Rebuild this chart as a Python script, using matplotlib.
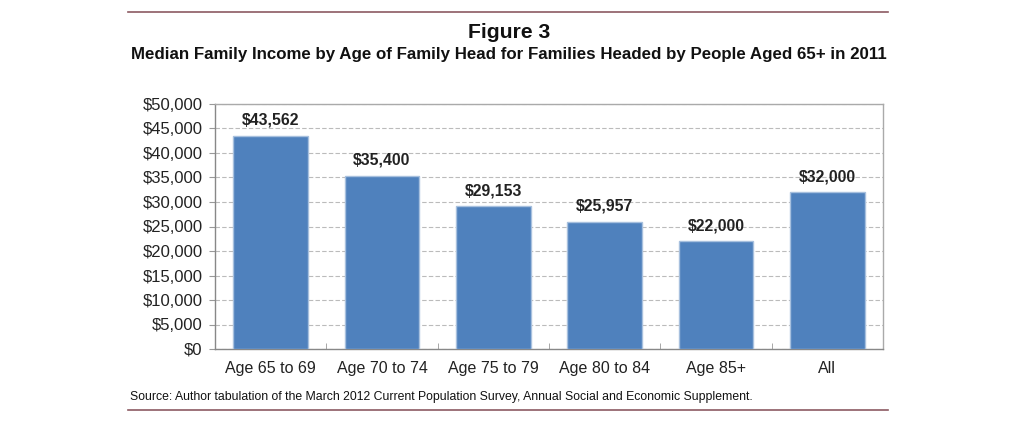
import matplotlib
matplotlib.use("Agg")
import matplotlib.pyplot as plt
from matplotlib.ticker import FuncFormatter, MultipleLocator, FixedLocator
from matplotlib.lines import Line2D

categories = ["Age 65 to 69", "Age 70 to 74", "Age 75 to 79", "Age 80 to 84", "Age 85+", "All"]
values = [43562, 35400, 29153, 25957, 22000, 32000]
title = "Figure 3"
subtitle = "Median Family Income by Age of Family Head for Families Headed by People Aged 65+ in 2011"
source = "Source: Author tabulation of the March 2012 Current Population Survey, Annual Social and Economic Supplement."

plt.rcParams['font.family'] = ['Liberation Sans', 'DejaVu Sans']

fig = plt.figure(figsize=(10.24, 4.21), dpi=100)
ax = fig.add_axes([215/1024, 1-349/421, (883-215)/1024, (349-104)/421])

x = list(range(len(categories)))
ax.bar(x, values, width=0.67, color="#4F81BD", edgecolor="#A7C0DE", linewidth=1.0, zorder=3)
for xi, v in zip(x, values):
    ax.text(xi, v + 1600, f"${v:,.0f}", ha="center", va="bottom", fontsize=11.4, fontweight="bold", color="#222222")

ax.set_xlim(-0.5, len(categories) - 0.5)
ax.set_ylim(0, 50000)
ax.yaxis.set_major_locator(MultipleLocator(5000))
ax.yaxis.set_major_formatter(FuncFormatter(lambda v, p: f"${v:,.0f}"))
ax.set_xticks(x)
ax.set_xticklabels(categories, va="baseline")
ax.xaxis.set_minor_locator(FixedLocator([i + 0.5 for i in range(len(categories) - 1)]))
ax.tick_params(axis="x", which="major", length=0, pad=17.5, labelsize=11.5, colors="#222222")
ax.tick_params(axis="x", which="minor", length=4, direction="in", color="#999999")
ax.tick_params(axis="y", length=4, color="#999999", labelsize=12, labelcolor="#222222", pad=5)
ax.grid(axis="y", color="#BBBBBB", linestyle=(0, (4, 2)), linewidth=0.8, zorder=0)
for s in ax.spines.values():
    s.set_color("#AAAAAA")
    s.set_linewidth(1.0)
ax.spines["left"].set_color("#888888")
ax.spines["bottom"].set_color("#888888")

fig.text(509/1024, 1-32/421, title, ha="center", va="center", fontsize=15.2, fontweight="bold", color="#111111")
fig.text(509/1024, 1-55/421, subtitle, ha="center", va="center", fontsize=12.2, fontweight="bold", color="#111111")
fig.text(130/1024, 1-397/421, source, ha="left", va="center", fontsize=8.8, color="#111111")

for yy in (12, 410):
    fig.add_artist(Line2D([128/1024, 888/1024], [1-yy/421, 1-yy/421], color="#8C5A62", linewidth=1.2))

fig.savefig("out.png", dpi=100, facecolor="white")
